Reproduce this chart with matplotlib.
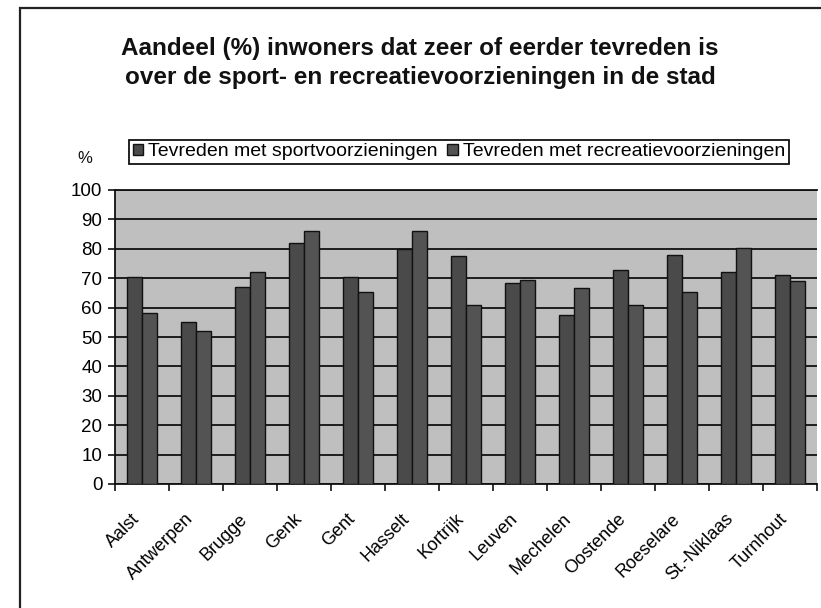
import matplotlib
matplotlib.use("Agg")
import matplotlib.pyplot as plt
import numpy as np
from matplotlib.patches import Rectangle

cities = ["Aalst", "Antwerpen", "Brugge", "Genk", "Gent", "Hasselt", "Kortrijk",
          "Leuven", "Mechelen", "Oostende", "Roeselare", "St.-Niklaas", "Turnhout"]
sport = [70.5, 55.0, 67.0, 82.0, 70.3, 80.0, 77.5, 68.5, 57.5, 72.8, 77.8, 72.0, 71.0]
recreatie = [58.0, 52.0, 72.2, 86.2, 65.2, 86.2, 61.0, 69.3, 66.6, 61.0, 65.2, 80.3, 69.2]
series_names = ["Tevreden met sportvoorzieningen", "Tevreden met recreatievoorzieningen"]
title = "Aandeel (%) inwoners dat zeer of eerder tevreden is\nover de sport- en recreatievoorzieningen in de stad"

plt.rcParams['font.family'] = ['Liberation Sans', 'DejaVu Sans']

W, H = 821, 608
fig = plt.figure(figsize=(W / 100, H / 100), dpi=100)
fig.patch.set_facecolor('white')

# outer chart border
fig.patches.append(Rectangle((20 / W, -0.05), 1.1, 1 - 8 / H + 0.05, transform=fig.transFigure,
                             fill=False, edgecolor='#222222', lw=1.6, zorder=0))

ax = fig.add_axes([115 / W, 1 - 484 / H, (817 - 115) / W, (484 - 190) / H])
ax.set_facecolor('#bfbfbf')

x = np.arange(len(cities))
bw = 0.285
b1 = ax.bar(x - bw / 2, sport, bw, color='#4a4a4a', edgecolor='#111111', lw=1.0, zorder=3,
            label=series_names[0])
b2 = ax.bar(x + bw / 2, recreatie, bw, color='#535353', edgecolor='#111111', lw=1.0, zorder=3,
            label=series_names[1])

ax.set_xlim(-0.5, len(cities) - 0.5)
ax.set_ylim(0, 100)
ax.set_yticks(np.arange(0, 101, 10))
ax.yaxis.grid(True, color='#111111', lw=1.3, zorder=1)
ax.set_axisbelow(True)

# x ticks at category boundaries
ax.set_xticks(np.arange(-0.5, len(cities) + 0.5, 1))
ax.set_xticklabels([])
ax.set_xticks(x, minor=True)
ax.set_xticklabels(cities, minor=True, rotation=45, ha='right', va='top',
                   rotation_mode='anchor', fontsize=13)
ax.tick_params(axis='x', which='minor', length=0, pad=19)
ax.tick_params(axis='x', which='major', length=5, width=1.2, color='#111111', direction='out')
ax.tick_params(axis='y', length=5, width=1.2, color='#111111', direction='out', labelsize=13.5, pad=4)
for lbl in ax.get_xticklabels(minor=True):
    lbl.set_transform(lbl.get_transform() + matplotlib.transforms.ScaledTranslation(-11 / 100, 0, fig.dpi_scale_trans))

for s in ['left', 'bottom']:
    ax.spines[s].set_color('#111111')
    ax.spines[s].set_linewidth(1.3)
ax.spines['top'].set_color('#111111')
ax.spines['top'].set_linewidth(1.3)
ax.spines['right'].set_visible(False)

fig.text(420 / W, 1 - 63 / H, title, ha='center', va='center', fontsize=17.5,
         fontweight='bold', linespacing=1.3, color='#111111')

leg = fig.legend(handles=[b1, b2], labels=series_names, loc='center',
                 bbox_to_anchor=(459 / W, 1 - 152 / H), ncol=2, fontsize=14,
                 frameon=True, fancybox=False, edgecolor='#111111', framealpha=1,
                 handlelength=0.55, handleheight=0.55, handletextpad=0.25, columnspacing=0.5,
                 borderpad=0.2, borderaxespad=0)
leg.get_frame().set_linewidth(1.3)

fig.text(85 / W, 1 - 158 / H, "%", ha='center', va='center', fontsize=12, color='#111111')

fig.savefig("out.png", dpi=100)
